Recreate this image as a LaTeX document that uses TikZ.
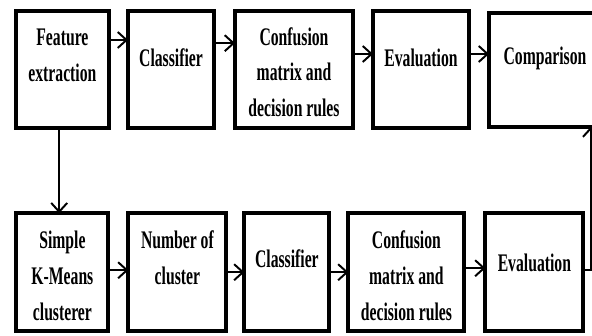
\documentclass[tikz,border=0pt]{standalone}
\usepackage{fontspec}
\setmainfont[FakeStretch=0.62]{Liberation Serif}
\usetikzlibrary{positioning,arrows.meta}

\begin{document}
\begin{tikzpicture}[font=\bfseries\fontsize{18}{25.5}\selectfont,
      >={Straight Barb[length=2.2mm,width=4mm]},
      b/.style={draw, line width=2.8pt, outer sep=0pt, minimum height=2.93cm},
      t/.style={inner sep=0pt, align=center},
      c/.style={->, line width=1.4pt}]
    \useasboundingbox (0,0) rectangle (14.8,8.4);
    \clip (0,0) rectangle (14.8,8.4);
    % upper row
    \node[b, minimum width=2.33cm, label={[t, below=0.44cm]north:Feature\\extraction}] (fe) at (1.56,6.66) {};
    \node[b, minimum width=2.15cm, right=0.475cm of fe, label={[t, below=0.94cm]north:Classifier}] (cl1) {};
    \node[b, minimum width=2.95cm, right=0.525cm of cl1, label={[t, below=0.4cm]north:Confusion\\matrix and\\decision rules}] (cm1) {};
    \node[b, minimum width=2.4cm, right=0.5cm of cm1, label={[t, below=0.94cm]north:Evaluation}] (ev1) {};
    \node[b, minimum width=2.8cm, minimum height=2.85cm, right=0.5cm of ev1, label={[t, below=0.84cm]north:Comparison}] (cp) {};
    % lower row
    \node[b, minimum width=2.3cm, minimum height=2.95cm, below=2.125cm of fe, label={[t, below=0.44cm]north:Simple\\K-Means\\clusterer}] (km) {};
    \node[b, minimum width=2.45cm, minimum height=2.95cm, right=0.5cm of km, label={[t, below=0.44cm]north:Number of\\cluster}] (nc) {};
    \node[b, minimum width=2.125cm, minimum height=2.95cm, right=0.45cm of nc, label={[t, below=0.91cm]north:Classifier}] (cl2) {};
    \node[b, minimum width=2.9cm, minimum height=2.95cm, right=0.475cm of cl2, label={[t, below=0.44cm]north:Confusion\\matrix and\\decision rules}] (cm2) {};
    \node[b, minimum width=2.45cm, minimum height=2.95cm, right=0.525cm of cm2, label={[t, below=1.0cm]north:Evaluation}] (ev2) {};
    % connectors
    \draw[c] ([yshift=0.74cm]fe.east) -- ([yshift=0.74cm]cl1.west);
    \draw[c] ([yshift=0.66cm]cl1.east) -- ([yshift=0.66cm]cm1.west);
    \draw[c] ([yshift=0.39cm]cm1.east) -- ([yshift=0.39cm]ev1.west);
    \draw[c] ([yshift=0.39cm]ev1.east) -- ([yshift=0.39cm]cp.west);
    \draw[c] ([xshift=-0.08cm]fe.south) -- ([xshift=-0.08cm]km.north);
    \draw[c] ([yshift=0.05cm]km.east) -- ([yshift=0.05cm]nc.west);
    \draw[c] (nc) -- (cl2);
    \draw[c] (cl2) -- (cm2);
    \draw[c] ([yshift=0.1cm]cm2.east) -- ([yshift=0.1cm]ev2.west);
    \draw[c] ([yshift=0.05cm]ev2.east) -| ([xshift=1.15cm]cp.south);
\end{tikzpicture}
\end{document}
